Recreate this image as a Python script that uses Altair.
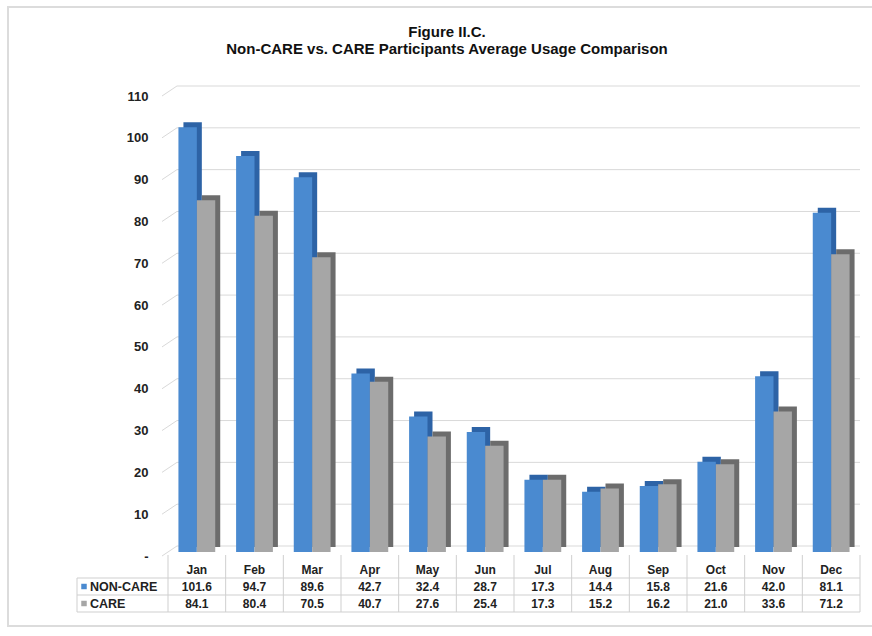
import altair as alt
import pandas as pd

months = ["Jan", "Feb", "Mar", "Apr", "May", "Jun", "Jul", "Aug", "Sep", "Oct", "Nov", "Dec"]
series = ["NON-CARE", "CARE"]
non_care = [101.6, 94.7, 89.6, 42.7, 32.4, 28.7, 17.3, 14.4, 15.8, 21.6, 42.0, 81.1]
care = [84.1, 80.4, 70.5, 40.7, 27.6, 25.4, 17.3, 15.2, 16.2, 21.0, 33.6, 71.2]
y_ticks = [0, 10, 20, 30, 40, 50, 60, 70, 80, 90, 100, 110]
rows = ["Month", "NON-CARE", "CARE"]
title_lines = ["Figure II.C.", "Non-CARE vs. CARE Participants Average Usage Comparison"]

front_colors = {"NON-CARE": "#4a8ad0", "CARE": "#a6a6a6"}
side_colors = {"NON-CARE": "#2d63a6", "CARE": "#6c6c6c"}

W, H = 692, 460
FONT = "Liberation Sans"
BAR_W = 18.4
DEPTH = 5
GRID = "#d9d9d9"
RULE = "#cfcfcf"

bars_df = pd.DataFrame(
    [{"month": m, "series": "NON-CARE", "value": v} for m, v in zip(months, non_care)]
    + [{"month": m, "series": "CARE", "value": v} for m, v in zip(months, care)]
)
table_df = pd.DataFrame(
    [{"month": m, "row": "Month", "text": m} for m in months]
    + [{"month": m, "row": "NON-CARE", "text": f"{v:.1f}"} for m, v in zip(months, non_care)]
    + [{"month": m, "row": "CARE", "text": f"{v:.1f}"} for m, v in zip(months, care)]
)
legend_df = pd.DataFrame({"row": series, "series": series})
ticks_df = pd.DataFrame({"value": y_ticks})
# wall edge: each gridline runs from the front (end 0) to the back wall (end 1)
wall_df = pd.DataFrame([{"value": t, "end": e} for t in y_ticks for e in (0, 1)])

x_scale = alt.Scale(domain=months, paddingInner=0, paddingOuter=0)
y_scale = alt.Scale(domain=[0, 110], nice=False)
y_axis = alt.Axis(values=y_ticks, title=None, domain=False, ticks=False,
                  grid=False, labelPadding=20, labelOffset=4, labelFont=FONT,
                  labelFontSize=13, labelFontWeight="bold", labelColor="#222222",
                  labelExpr="datum.value == 0 ? '-' : datum.label")
xb = alt.X("month:N", sort=months, axis=None, scale=x_scale)
yb = alt.Y("value:Q", scale=y_scale, axis=y_axis)

grid_back = alt.Chart(ticks_df).mark_rule(color=GRID, strokeWidth=1, yOffset=-6).encode(
    y=yb, x=alt.value(9), x2=alt.value(W),
)

base = alt.Chart(bars_df)
layers = [grid_back]
shift = {"NON-CARE": -BAR_W / 2, "CARE": BAR_W / 2}
for s in series:
    layers.append(
        base.transform_filter(alt.datum.series == s).mark_bar(
            width=BAR_W, xOffset=shift[s] + DEPTH, yOffset=-DEPTH,
            color=side_colors[s]).encode(x=xb, y=yb)
    )
for s in series:
    layers.append(
        base.transform_filter(alt.datum.series == s).mark_bar(
            width=BAR_W, xOffset=shift[s],
            color=front_colors[s]).encode(x=xb, y=yb)
    )
bars = alt.layer(*layers)

wall = alt.Chart(wall_df).transform_calculate(
    yy="datum.value + (datum.end == 1 ? 1.44 : -0.96)"
).mark_line(color=GRID, strokeWidth=1).encode(
    x=alt.X("end:Q", scale=alt.Scale(domain=[0, 1], range=[-6, 9]), axis=None),
    y=alt.Y("yy:Q", scale=alt.Scale(domain=[0, 110], nice=False), axis=None),
    detail="value:N",
)

yt_scale = alt.Scale(domain=rows, range=[469, 520], paddingInner=0, paddingOuter=0)
xt_scale = alt.Scale(domain=months, paddingInner=0, paddingOuter=0)

tbase = alt.Chart(table_df)
table_text = tbase.mark_text(font=FONT, fontSize=12, fontWeight="bold",
                             color="#222222").encode(
    x=alt.X("month:N", sort=months, axis=None, scale=xt_scale, bandPosition=0.5),
    y=alt.Y("row:N", sort=rows, axis=None, scale=yt_scale, bandPosition=0.55),
    text="text:N",
)
vlines = tbase.transform_filter(alt.datum.row == "Month").mark_rule(
    color=RULE, strokeWidth=1).encode(
    x=alt.X("month:N", sort=months, axis=None, scale=xt_scale, bandPosition=0),
    y=alt.value(463), y2=alt.value(520),
)
vline_end = tbase.transform_filter(alt.datum.month == "Dec").transform_filter(
    alt.datum.row == "Month").mark_rule(color=RULE, strokeWidth=1).encode(
    x=alt.X("month:N", sort=months, axis=None, scale=xt_scale, bandPosition=1),
    y=alt.value(463), y2=alt.value(520),
)
lbase = alt.Chart(legend_df)
hlines = lbase.mark_rule(color=RULE, strokeWidth=1).encode(
    y=alt.Y("row:N", sort=rows, axis=None, scale=yt_scale, bandPosition=0),
    x=alt.value(-91), x2=alt.value(W),
)
hline_bottom = lbase.transform_filter(alt.datum.row == "CARE").mark_rule(
    color=RULE, strokeWidth=1).encode(
    y=alt.Y("row:N", sort=rows, axis=None, scale=yt_scale, bandPosition=1),
    x=alt.value(-91), x2=alt.value(W),
)
left_border = lbase.transform_filter(alt.datum.row == "CARE").mark_rule(
    color=RULE, strokeWidth=1).encode(
    x=alt.value(-91),
    y=alt.Y("row:N", sort=rows, axis=None, scale=yt_scale, bandPosition=1),
    y2=alt.value(486),
)
squares = lbase.mark_square(size=30, opacity=1).encode(
    x=alt.value(-84),
    y=alt.Y("row:N", sort=rows, axis=None, scale=yt_scale, bandPosition=0.5),
    color=alt.Color("series:N", sort=series,
                    scale=alt.Scale(domain=series,
                                    range=[front_colors[s] for s in series]),
                    legend=None),
)
row_labels = lbase.mark_text(font=FONT, fontSize=12.5, fontWeight="bold",
                             color="#222222", align="left").encode(
    x=alt.value(-78),
    y=alt.Y("row:N", sort=rows, axis=None, scale=yt_scale, bandPosition=0.55),
    text="row:N",
)
table = alt.layer(vlines, vline_end, hlines, hline_bottom, left_border,
                  table_text, squares, row_labels)

one = alt.Chart(pd.DataFrame({"t": ["\n".join(title_lines)]}))
frame = one.mark_rect(fill=None, stroke="#dcdcdc", strokeWidth=2).encode(
    x=alt.value(-160), x2=alt.value(720), y=alt.value(-85), y2=alt.value(534),
)
title = one.mark_text(font=FONT, fontSize=15, fontWeight="bold", color="#111111",
                      align="center", baseline="middle", lineBreak="\n",
                      lineHeight=17).encode(
    x=alt.value(279), y=alt.value(-60), text="t:N",
)

chart = alt.layer(frame, title, wall, bars, table).resolve_scale(
    x="independent", y="independent", color="independent"
).properties(
    width=W, height=H,
    autosize=alt.AutoSizeParams(type="none"),
    padding={"left": 168, "top": 92, "right": 12, "bottom": 84},
).configure(background="white").configure_view(stroke=None)

chart.save("out.html", embed_options={"renderer": "svg", "actions": False})
